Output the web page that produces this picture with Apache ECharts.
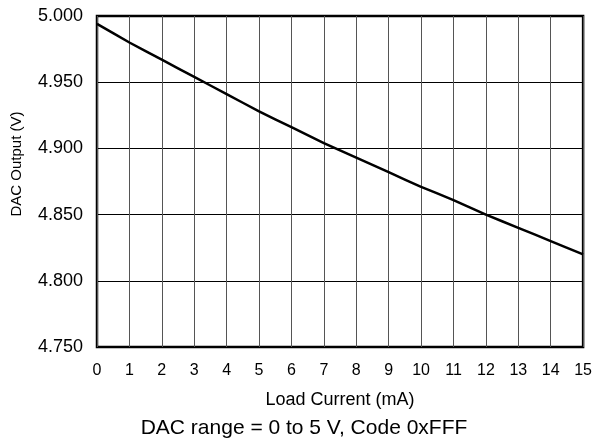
<!DOCTYPE html>
<html><head><meta charset="utf-8">
<script src="https://cdn.jsdelivr.net/npm/echarts@6/dist/echarts.min.js"></script>
<style>html,body{margin:0;padding:0;background:#fff}#c{width:595px;height:442px}</style>
</head><body><div id="c"></div>
<script>
const loadCurrent = [0,1,2,3,4,5,6,7,8,9,10,11,12,13,14,15];
const dacOutput = [4.994,4.980,4.967,4.954,4.941,4.928,4.916,4.904,4.893,4.882,4.871,4.861,4.850,4.840,4.830,4.820];
const xTitle = 'Load Current (mA)';
const yTitle = 'DAC Output (V)';
const caption = 'DAC range = 0 to 5 V, Code 0xFFF';

const chart = echarts.init(document.getElementById('c'), null, {renderer:'canvas'});
const F = 'Liberation Sans, Arial, sans-serif';
chart.setOption({
  animation:false,
  backgroundColor:'#fff',
  grid:{left:97,right:11,top:16,bottom:95,show:true,borderColor:'#000',borderWidth:2.5,backgroundColor:'transparent'},
  graphic:[
    {type:'text',x:304,y:428,style:{text:caption,font:'21px '+F,fill:'#000',textAlign:'center',textVerticalAlign:'middle'}},
    {type:'text',x:17,y:164,rotation:Math.PI/2,style:{text:yTitle,font:'15px '+F,fill:'#000',textAlign:'center',textVerticalAlign:'middle'}}
  ],
  xAxis:{type:'value',min:0,max:15,interval:1,
    name:xTitle,nameLocation:'middle',nameGap:44,nameTextStyle:{fontFamily:F,fontSize:18,color:'#000'},
    axisLine:{show:false},axisTick:{show:false},
    axisLabel:{fontFamily:F,fontSize:16,color:'#000',margin:16},
    splitLine:{show:true,lineStyle:{color:'#555',width:1}}},
  yAxis:{type:'value',min:4.75,max:5.0,interval:0.05,
    axisLine:{show:false},axisTick:{show:false},
    axisLabel:{fontFamily:F,fontSize:18,color:'#000',margin:14,formatter:v=>v.toFixed(3)},
    splitLine:{show:true,lineStyle:{color:'#000',width:1}}},
  series:[{type:'line',data:loadCurrent.map((x,i)=>[x,dacOutput[i]]),showSymbol:false,smooth:0.15,
    lineStyle:{color:'#000',width:2.5}}]
});
</script></body></html>
